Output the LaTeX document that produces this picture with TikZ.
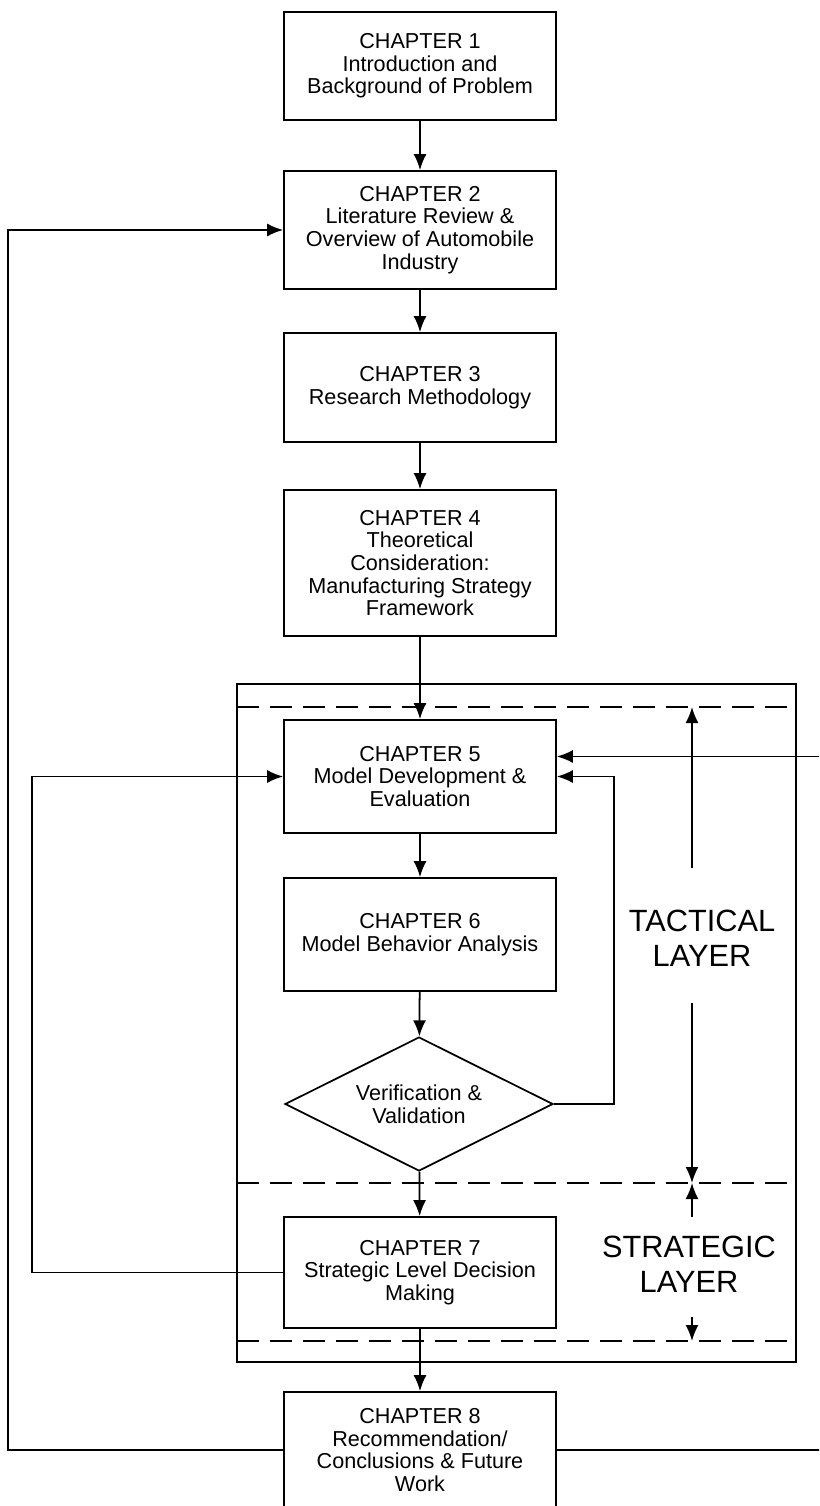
\documentclass[tikz,border=0pt]{standalone}
\usepackage{fontspec}
\setmainfont{Liberation Sans}
\usetikzlibrary{arrows.meta}
\usetikzlibrary{shapes.geometric}
\usetikzlibrary{calc}

\tikzset{
    chapbox/.style={draw, rectangle, minimum width=5.44cm, inner sep=0pt,
        align=center, font=\fontsize{12.3}{12.9}\selectfont},
    decision/.style={draw, diamond, aspect=2, minimum width=5.36cm,
        minimum height=2.68cm, inner sep=0pt, align=center,
        font=\fontsize{12.3}{12.9}\selectfont},
    arr/.style={-{Latex[length=3.2mm,width=2.6mm]}},
    layerline/.style={dash pattern=on 0.44cm off 0.22cm},
    layerlabel/.style={align=center, font=\fontsize{17.5}{20}\selectfont}
}

\begin{document}
\begin{tikzpicture}[x=0.02cm, y=-0.02cm, line width=1pt]
    %% page
    \clip (0,0) rectangle (819,1506);
    \fill[white] (0,0) rectangle (819,1506);

    %% define levels
    \def\Xarr{692};
    \def\Ytop{707};
    \def\Ymid{1183};
    \def\Ybot{1341};

    %% chapter boxes
    \node[chapbox, minimum height=2.16cm] (ch1) at (420,66)
        {CHAPTER 1\\Introduction and\\Background of Problem};
    \node[chapbox, minimum height=2.36cm] (ch2) at (420,230)
        {CHAPTER 2\\Literature Review \&\\Overview of Automobile\\Industry};
    \node[chapbox, minimum height=2.18cm] (ch3) at (420,387.5)
        {CHAPTER 3\\Research Methodology};
    \node[chapbox, minimum height=2.92cm] (ch4) at (420,563)
        {CHAPTER 4\\Theoretical\\Consideration:\\Manufacturing Strategy\\Framework};
    \node[chapbox, minimum height=2.26cm] (ch5) at (420,776.5)
        {CHAPTER 5\\Model Development \&\\Evaluation};
    \node[chapbox, minimum height=2.26cm] (ch6) at (420,934.5)
        {CHAPTER 6\\Model Behavior Analysis};
    \node[decision] (vv) at (419,1104) {Verification \&\\Validation};
    \node[chapbox, minimum height=2.22cm] (ch7) at (420,1272.5)
        {CHAPTER 7\\Strategic Level Decision\\Making};
    \node[chapbox, minimum height=2.32cm] (ch8) at (420,1450)
        {CHAPTER 8\\Recommendation/\\Conclusions \& Future\\Work};

    %% frame and layer lines
    \draw (237,684) rectangle (796,1362);
    \draw[layerline] (237,\Ytop) -- (796,\Ytop);
    \draw[layerline] (237,\Ymid) -- (796,\Ymid);
    \draw[layerline] (237,\Ybot) -- (796,\Ybot);

    %% main flow
    \draw[arr] (ch1) -- (ch2);
    \draw[arr] (ch2) -- (ch3);
    \draw[arr] (ch3) -- (ch4);
    \draw[arr] (ch4) -- (ch5);
    \draw[arr] (ch5) -- (ch6);
    \draw[arr] (ch6) -- (vv);
    \draw[arr] (vv) -- (ch7);
    \draw[arr] (ch7) -- (ch8);

    %% feedback loops
    \draw[arr] (vv.east) -- ++(60,0) |- (ch5.east);
    \draw[arr] (ch7.west) -- ++(-251,0) |- (ch5.west);
    \draw[arr] (ch8.west) -- ++(-275,0) |- (ch2.west);
    \draw[arr] (ch8.east) -- ++(300,0) |- ($(ch5.east)+(0,-20)$);

    %% layer labels
    \node[layerlabel] (tact) at (702,938) {TACTICAL\\LAYER};
    \node[layerlabel] (strat) at (689,1264) {STRATEGIC\\LAYER};
    \draw[arr] (\Xarr,868) -- (\Xarr,\Ytop);
    \draw[arr] (\Xarr,1003) -- (\Xarr,\Ymid);
    \draw[arr] (\Xarr,1217) -- (\Xarr,\Ymid);
    \draw[arr] (\Xarr,1317) -- (\Xarr,\Ybot);
\end{tikzpicture}
\end{document}
